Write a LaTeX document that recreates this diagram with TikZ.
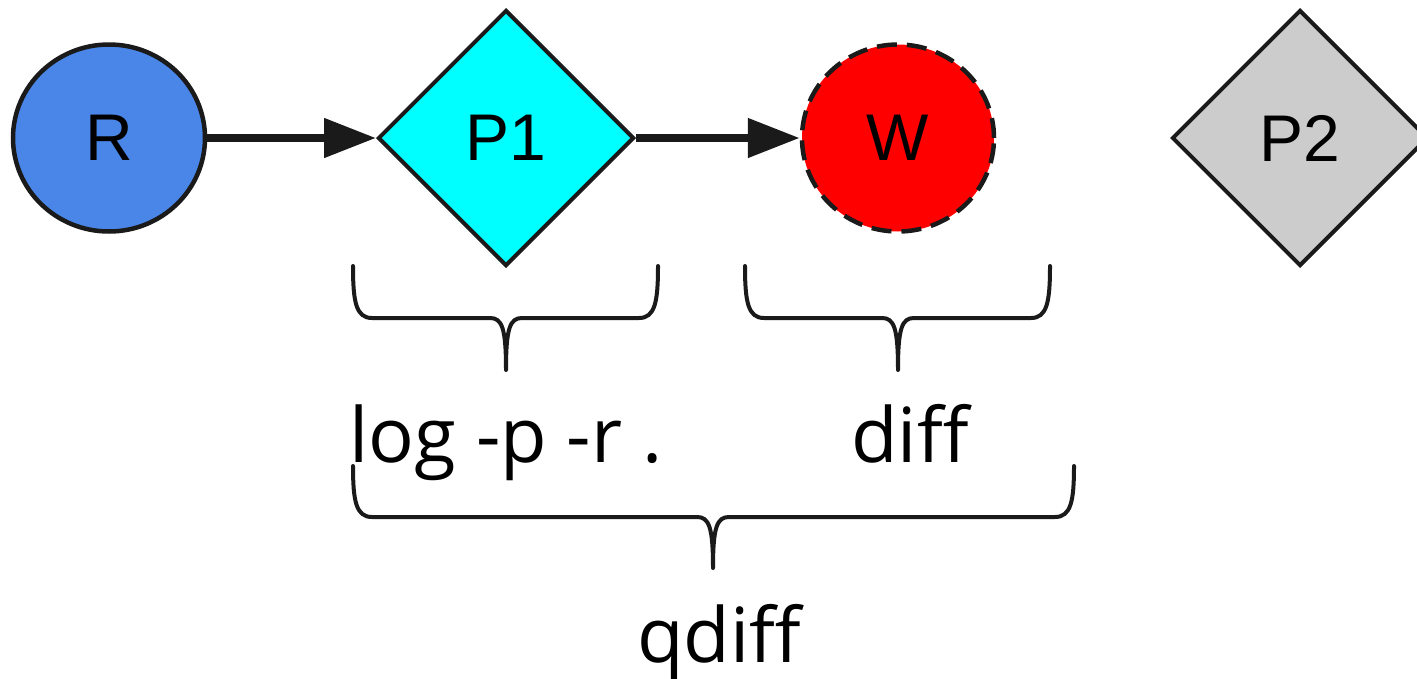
\documentclass[tikz,border=0pt]{standalone}
\usepackage{fontspec}
\setmainfont{Liberation Sans}
\newfontfamily\labfont{Open Sans}
\usetikzlibrary{shapes.geometric,arrows.meta}
\definecolor{lineclr}{HTML}{1A1A1A}
\definecolor{rblue}{HTML}{4A86E8}
\definecolor{pcyan}{HTML}{00FFFF}
\definecolor{wred}{HTML}{FF0000}
\definecolor{pgray}{HTML}{CCCCCC}
\tikzset{
  circnode/.style={ellipse, draw=lineclr, line width=4.5pt, minimum width=192pt, minimum height=187pt, inner sep=0pt, font=\fontsize{66}{70}\selectfont},
  diamnode/.style={diamond, draw=lineclr, line width=4pt, minimum width=256pt, minimum height=256pt, inner sep=0pt, font=\fontsize{66}{70}\selectfont},
  flowarrow/.style={draw=lineclr, line width=8pt, -{Triangle[length=52pt,width=38pt]}},
  bracepath/.style={draw=lineclr, line width=4pt, line cap=round, line join=round},
  bracelabel/.style={font=\labfont\fontsize{76}{80}\selectfont, anchor=base, inner sep=0pt}
}
\begin{document}
\begin{tikzpicture}[x=1pt,y=-1pt]
\useasboundingbox (0,0) rectangle (1417,678);
\clip (0,0) rectangle (1417,678);
\node[circnode, fill=rblue] (R) at (109,138) {R};
\node[diamnode, fill=pcyan] (P1) at (506,138) {P1};
\node[circnode, fill=wred, dash pattern=on 20pt off 10pt] (W) at (898,138) {W};
\node[diamnode, fill=pgray] (P2) at (1300,138) {P2};
\draw[flowarrow] (R.east) -- (P1.west);
\draw[flowarrow] (P1.east) -- (W.west);
% brace 1
\coordinate (b1tip) at (506,370);
\draw[bracepath] (353,266) .. controls (353,302) and (356,318) .. (372,318) -- (490,318)
  .. controls (502,318) and (506,328) .. (b1tip)
  .. controls (506,328) and (510,318) .. (522,318) -- (639,318)
  .. controls (655,318) and (658,302) .. (658,266);
% brace 2
\coordinate (b2tip) at (898,370);
\draw[bracepath] (745,266) .. controls (745,302) and (748,318) .. (764,318) -- (882,318)
  .. controls (894,318) and (898,328) .. (b2tip)
  .. controls (898,328) and (902,318) .. (914,318) -- (1031,318)
  .. controls (1047,318) and (1050,302) .. (1050,266);
% brace 3
\coordinate (b3tip) at (713,568);
\draw[bracepath] (353,466) .. controls (353,501) and (356,517) .. (372,517) -- (697,517)
  .. controls (709,517) and (713,527) .. (b3tip)
  .. controls (713,527) and (717,517) .. (729,517) -- (1055,517)
  .. controls (1071,517) and (1074,501) .. (1074,466);
\node[bracelabel] (l1) at (506,462) {log -p -r .};
\node[bracelabel] (l2) at (910,462) {diff};
\node[bracelabel] (l3) at (719,662) {qdiff};
\end{tikzpicture}
\end{document}
